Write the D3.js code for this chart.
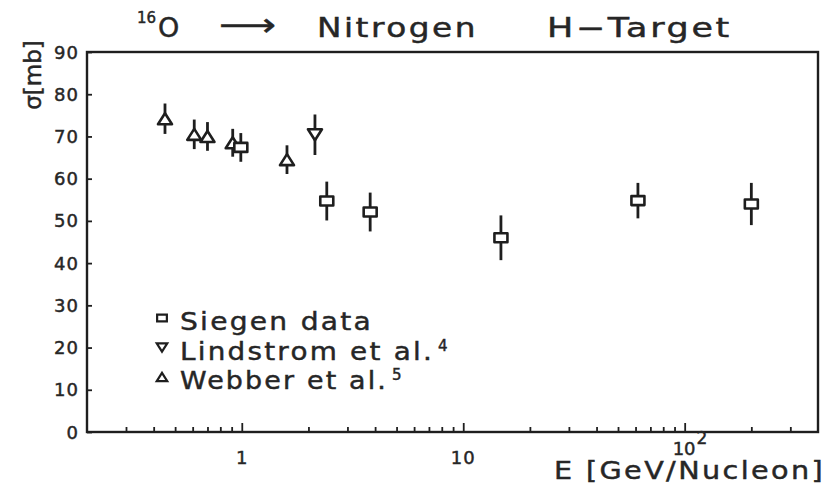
<!DOCTYPE html>
<html>
<head>
<meta charset="utf-8">
<script src="https://cdn.jsdelivr.net/npm/d3@7"></script>
<style>
  body { margin: 0; background: #fff; }
  svg { display: block; }
  text { font-family: "DejaVu Sans", sans-serif; fill: #262626; stroke: #262626; stroke-width: 0.45; }
</style>
</head>
<body>
<script>
// Cross sections sigma [mb] for 16O -> Nitrogen on a hydrogen target
const siegenE = [0.99, 2.42, 3.8, 14.8, 61.5, 200];
const siegenSigma = [67.4, 54.7, 52.1, 46.0, 54.8, 54.0];
const siegenErr = [3.4, 4.6, 4.6, 5.3, 4.2, 5.0];

const lindstromE = [2.14];
const lindstromSigma = [70.4];
const lindstromErr = [4.8];

const webberE = [0.45, 0.61, 0.70, 0.91, 1.6];
const webberSigma = [74.2, 70.5, 70.0, 68.5, 64.5];
const webberErr = [3.6, 3.5, 3.4, 3.3, 3.4];

const yTicks = [0, 10, 20, 30, 40, 50, 60, 70, 80, 90];
const xMajor = [1, 10, 100];
const xMinor = [0.3, 0.4, 0.5, 0.6, 0.7, 0.8, 0.9,
                2, 3, 4, 5, 6, 7, 8, 9,
                20, 30, 40, 50, 60, 70, 80, 90,
                200, 300];

const W = 836, H = 489;
const ink = "#1e1e1e";

const svg = d3.select("body").append("svg")
  .attr("width", W).attr("height", H);

const x = d3.scaleLog().domain([0.2, 400]).range([87, 818]);
const y = d3.scaleLinear().domain([0, 90]).range([432, 52]);

// Axes with inward ticks
function styleAxis(g) {
  g.select(".domain").remove();
  g.selectAll(".tick line").attr("stroke", ink).attr("stroke-width", 1.8);
}
svg.append("g").attr("transform", "translate(0,432)")
  .call(d3.axisBottom(x).tickValues(xMinor).tickSize(-5).tickFormat(""))
  .call(styleAxis);
svg.append("g").attr("transform", "translate(0,432)")
  .call(d3.axisBottom(x).tickValues(xMajor).tickSize(-9).tickFormat(""))
  .call(styleAxis);
svg.append("g").attr("transform", "translate(87,0)")
  .call(d3.axisLeft(y).tickValues(yTicks).tickSize(-5).tickFormat(""))
  .call(styleAxis);

// Frame
svg.append("rect")
  .attr("x", x.range()[0]).attr("y", y.range()[1])
  .attr("width", x.range()[1] - x.range()[0])
  .attr("height", y.range()[0] - y.range()[1])
  .attr("fill", "none").attr("stroke", ink).attr("stroke-width", 2.4);

// Y tick labels
svg.append("g").selectAll("text").data(yTicks).join("text")
  .attr("x", 79).attr("y", d => y(d) + 6.5)
  .attr("text-anchor", "end")
  .attr("font-size", 18).attr("letter-spacing", 1)
  .text(d => d);

// X tick labels
svg.append("text").attr("x", x(1)).attr("y", 464)
  .attr("text-anchor", "middle").attr("font-size", 18).text("1");
svg.append("text").attr("x", x(10)).attr("y", 464)
  .attr("text-anchor", "middle").attr("font-size", 18).attr("letter-spacing", 1).text("10");
const hundred = svg.append("text").attr("x", x(100) - 12).attr("y", 455).attr("font-size", 18);
hundred.append("tspan").text("10");
hundred.append("tspan").attr("dx", 1).attr("dy", -11).attr("font-size", 17).text("2");

// Axis titles
svg.append("text").attr("x", 554).attr("y", 479)
  .attr("font-size", 24).attr("letter-spacing", 2)
  .attr("textLength", 271).attr("lengthAdjust", "spacingAndGlyphs")
  .text("E [GeV/Nucleon]");
svg.append("text")
  .attr("transform", "translate(41,75) rotate(-90)")
  .attr("text-anchor", "middle").attr("font-size", 23)
  .text("σ[mb]");

// Title
const title = svg.append("text").attr("y", 37).attr("font-size", 26);
title.append("tspan").attr("x", 137).attr("y", 23).attr("font-size", 15).text("16");
title.append("tspan").attr("x", 158).attr("y", 37).attr("font-size", 27).text("O");
svg.append("text").attr("x", 219).attr("y", 36).attr("font-size", 32)
  .attr("textLength", 57).attr("lengthAdjust", "spacingAndGlyphs").text("⟶");
svg.append("text").attr("x", 317).attr("y", 37).attr("font-size", 26).attr("letter-spacing", 2)
  .attr("textLength", 161).attr("lengthAdjust", "spacingAndGlyphs").text("Nitrogen");
svg.append("text").attr("x", 547).attr("y", 37).attr("font-size", 26).attr("letter-spacing", 2)
  .attr("textLength", 185).attr("lengthAdjust", "spacingAndGlyphs").text("H−Target");

// Marker shapes
const sqW = 13, sqH = 9, triW = 14, triH = 11;
function squarePath(s) { const w = sqW * s / 2, h = sqH * s / 2; return `M${-w},${-h}H${w}V${h}H${-w}Z`; }
function triUpPath(s) { const w = triW * s / 2, h = triH * s / 2; return `M0,${-h}L${w},${h}L${-w},${h}Z`; }
function triDownPath(s) { const w = triW * s / 2, h = triH * s / 2; return `M0,${h}L${w},${-h}L${-w},${-h}Z`; }

function drawSeries(E, S, err, pathFn) {
  const data = E.map((e, i) => ({ e, s: S[i], d: err[i] }));
  const g = svg.append("g");
  g.selectAll("line").data(data).join("line")
    .attr("x1", d => x(d.e)).attr("x2", d => x(d.e))
    .attr("y1", d => y(d.s + d.d)).attr("y2", d => y(d.s - d.d))
    .attr("stroke", ink).attr("stroke-width", 2.8);
  g.selectAll("path").data(data).join("path")
    .attr("transform", d => `translate(${x(d.e)},${y(d.s)})`)
    .attr("d", pathFn(1))
    .attr("fill", "#fff").attr("stroke", ink).attr("stroke-width", 2.6)
    .attr("stroke-linejoin", "round");
}
drawSeries(webberE, webberSigma, webberErr, triUpPath);
drawSeries(lindstromE, lindstromSigma, lindstromErr, triDownPath);
drawSeries(siegenE, siegenSigma, siegenErr, squarePath);

// Legend: one text block, one line per series
const legend = [
  { path: squarePath, label: "Siegen data", sup: "", y: 330, len: 193 },
  { path: triDownPath, label: "Lindstrom et al.", sup: "4", y: 359.5, len: 254 },
  { path: triUpPath, label: "Webber et al.", sup: "5", y: 389, len: 208 }
];
const legendText = svg.append("text").attr("font-size", 25);
legend.forEach(l => {
  svg.append("path")
    .attr("transform", `translate(162,${l.y - 12})`)
    .attr("d", l.path(0.75))
    .attr("fill", "#fff").attr("stroke", ink).attr("stroke-width", 2.2);
  legendText.append("tspan").attr("x", 180).attr("y", l.y)
    .attr("letter-spacing", 2)
    .attr("textLength", l.len).attr("lengthAdjust", "spacingAndGlyphs")
    .text(l.label);
  if (l.sup) {
    legendText.append("tspan").attr("x", 180 + l.len + 4).attr("y", l.y - 9)
      .attr("font-size", 15).attr("letter-spacing", 0).text(l.sup);
  }
});
</script>
</body>
</html>
